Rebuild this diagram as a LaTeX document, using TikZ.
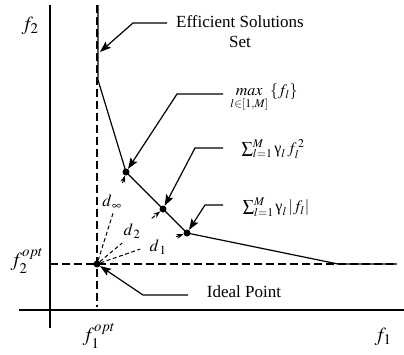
\documentclass[tikz,border=0pt]{standalone}
\usepackage{mathptmx}
\usepackage{fontspec}
\setmainfont{Liberation Serif}
\usetikzlibrary{arrows.meta,calc}

\tikzset{
	axis/.style={line width=1.3pt},
	guide/.style={line width=1.5pt, dash pattern=on 8pt off 4pt},
	front/.style={line width=1.2pt},
	ray/.style={line width=1pt, dash pattern=on 4pt off 2.5pt},
	leader/.style={line width=1.2pt, -{Stealth[length=11pt,width=8pt,inset=2pt]}},
	dot/.style={circle, fill, inner sep=0pt, minimum size=7pt},
	lbl/.style={font=\fontsize{17}{20}\selectfont, inner sep=1pt},
	flbl/.style={font=\fontsize{20}{24}\selectfont, inner sep=1pt},
	mlbl/.style={font=\fontsize{16}{19}\selectfont, inner sep=1pt}
}
\newcommand{\ugam}{\mbox{\upshape γ}}

\begin{document}
\begin{tikzpicture}[x=1pt,y=-1pt]
	\useasboundingbox (0,0) rectangle (404,354);
	% axes
	\coordinate (ytop) at (50,5);
	\coordinate (ybot) at (50,328);
	\coordinate (xlft) at (19,310);
	\coordinate (xrgt) at (404,310);
	\draw[axis] (ytop) -- (ybot);
	\draw[axis] (xlft) -- (xrgt);
	\node[flbl] (f2) at (30,26) {$f_2$};
	\node[flbl] (f1) at (383,337) {$f_1$};
	% ideal point and its guides
	\coordinate (gtop) at (97,5);
	\coordinate (gbot) at (97,307);
	\coordinate (glft) at (50,264);
	\coordinate (grgt) at (397,264);
	\draw[guide] (gtop) -- (gbot);
	\draw[guide] (glft) -- (grgt);
	\node[flbl] (f2opt) at (27,261) {$f_2^{opt}$};
	\node[flbl] (f1opt) at (99,336) {$f_1^{opt}$};
	% efficient solutions set
	\coordinate (c0) at (98,5);
	\coordinate (c1) at (98,80);
	\coordinate (c2) at (338,264);
	\node[dot] (p1) at (126,172) {};
	\node[dot] (p2) at (163,209) {};
	\node[dot] (p3) at (187,233) {};
	\node[dot] (ideal) at (97,264) {};
	\draw[front] (c0) -- (c1) -- (p1.center) -- (p2.center) -- (p3.center) -- (c2) -- (grgt);
	% distances
	\draw[ray] (ideal) -- ($(ideal)!0.55!(p1)$);
	\draw[ray] (ideal) -- ($(ideal)!0.38!(p2)$);
	\draw[ray] (ideal) -- ($(ideal)!0.48!(p3)$);
	\draw[ray, -{Stealth[length=7pt,width=5pt]}] ($(ideal)!0.88!(p1)$) -- (p1);
	\draw[ray, -{Stealth[length=7pt,width=5pt]}] ($(ideal)!0.83!(p2)$) -- (p2);
	\draw[ray, -{Stealth[length=7pt,width=5pt]}] ($(ideal)!0.88!(p3)$) -- (p3);
	\node[lbl] (dinf) at (112,202) {$d_{\,\infty}$};
	\node[lbl] (dtwo) at (132,231) {$d_{\,2}$};
	\node[lbl] (done) at (158,247) {$d_{\,1}$};
	% labels and leaders
	\node[lbl] (eff) at (240,22) {Efficient Solutions};
	\node[lbl] (set) at (240,42) {Set};
	\node[mlbl] (maxf) at (264,98) {$\mathop{\mathit{max}}\limits_{l\in[1,M]}\left\{f_l\right\}$};
	\node[mlbl] (sumsq) at (273,149) {$\sum_{l=1}^{M}\ugam_l\, f_l^{\,2}$};
	\node[mlbl] (sumabs) at (276,207) {$\sum_{l=1}^{M}\ugam_l \left|f_l\right|$};
	\node[lbl] (idl) at (244,292) {Ideal Point};
	\coordinate (effend) at (167,23);
	\coordinate (effknee) at (133,23);
	\coordinate (efftip) at (100,52);
	\coordinate (maxend) at (223,94);
	\coordinate (maxknee) at (177,94);
	\coordinate (sqend) at (223,148);
	\coordinate (sqknee) at (195,148);
	\coordinate (absend) at (223,205);
	\coordinate (absknee) at (205,205);
	\coordinate (idlend) at (188,295);
	\coordinate (idlknee) at (143,295);
	\draw[leader] (effend) -- (effknee) -- (efftip);
	\draw[leader] (maxend) -- (maxknee) -- (p1);
	\draw[leader] (sqend) -- (sqknee) -- (p2);
	\draw[leader] (absend) -- (absknee) -- (p3);
	\draw[leader] (idlend) -- (idlknee) -- (ideal);
\end{tikzpicture}
\end{document}
